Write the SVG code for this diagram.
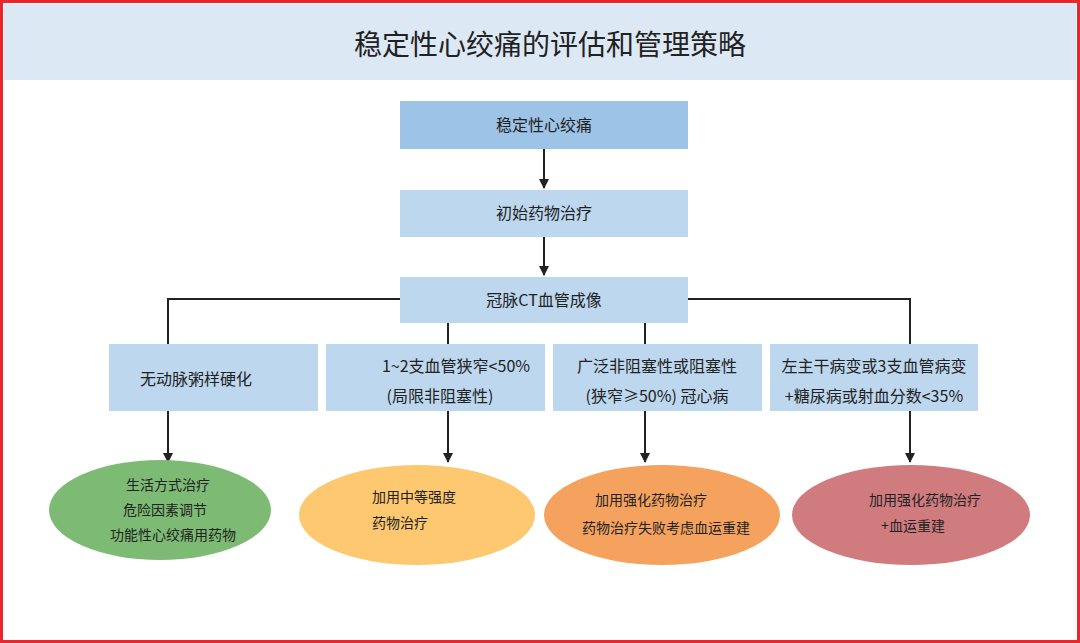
<svg xmlns="http://www.w3.org/2000/svg" width="1080" height="643" viewBox="0 0 1080 643">
<style>
text{font-family:"Noto Sans CJK SC","Noto Sans",sans-serif;fill:#222;text-anchor:middle}
.t{font-size:16px}
.c{stroke:#222;stroke-width:2;fill:none}
</style>
<defs><marker id="a" markerWidth="10" markerHeight="10" refX="9" refY="5" orient="auto" markerUnits="userSpaceOnUse"><path d="M0,0L10,5L0,10z" fill="#222"/></marker></defs>
<rect x="0" y="0" width="1080" height="643" fill="#fff"/>
<rect x="4" y="4" width="1072" height="76" fill="#dde8f5"/>
<rect x="1.5" y="1.5" width="1077" height="640" fill="none" stroke="#e8262d" stroke-width="3"/>
<text x="550" y="55" style="font-size:28px">稳定性心绞痛的评估和管理策略</text>
<g id="connectors">
<path class="c" marker-end="url(#a)" d="M544,149V188"/>
<path class="c" marker-end="url(#a)" d="M544,237V275"/>
<path class="c" d="M400,299H168V344M688,299H910V344M448,323V344M645,323V344"/>
<path class="c" marker-end="url(#a)" d="M168,411V462"/>
<path class="c" marker-end="url(#a)" d="M448,411V462"/>
<path class="c" marker-end="url(#a)" d="M645,411V462"/>
<path class="c" marker-end="url(#a)" d="M910,411V462"/>
</g>
<g id="n1"><rect x="400" y="101" width="288" height="48" fill="#9dc3e6"/><text class="t" x="544" y="131">稳定性心绞痛</text></g>
<g id="n2"><rect x="400" y="190" width="288" height="47" fill="#bdd7ee"/><text class="t" x="544" y="219">初始药物治疗</text></g>
<g id="n3"><rect x="400" y="277" width="288" height="46" fill="#bdd7ee"/><text class="t" x="544" y="306">冠脉CT血管成像</text></g>
<g id="b1"><rect x="109" y="344" width="209" height="67" fill="#bdd7ee"/><text class="t" x="196" y="385">无动脉粥样硬化</text></g>
<g id="b2"><rect x="326" y="344" width="219" height="67" fill="#bdd7ee"/><text class="t" x="456" y="372">1~2支血管狭窄&lt;50%</text><text class="t" x="440" y="402">(局限非阻塞性)</text></g>
<g id="b3"><rect x="553" y="344" width="209" height="67" fill="#bdd7ee"/><text class="t" x="657" y="372">广泛非阻塞性或阻塞性</text><text class="t" x="657" y="402">(狭窄≥50%)  冠心病</text></g>
<g id="b4"><rect x="770" y="344" width="208" height="67" fill="#bdd7ee"/><text class="t" x="874" y="372">左主干病变或3支血管病变</text><text class="t" x="874" y="402">+糖尿病或射血分数&lt;35%</text></g>
<g id="e1"><ellipse cx="160" cy="510" rx="111" ry="50" fill="#7dbb74"/><text class="t" style="font-size:14px" x="168" y="490">生活方式治疗</text><text class="t" style="font-size:14px" x="165" y="515">危险因素调节</text><text class="t" style="font-size:14px" x="173" y="540">功能性心绞痛用药物</text></g>
<g id="e2"><ellipse cx="417" cy="515" rx="118" ry="50" fill="#fdc870"/><text class="t" style="font-size:14px" x="414" y="502">加用中等强度</text><text class="t" style="font-size:14px" x="400" y="528">药物治疗</text></g>
<g id="e3"><ellipse cx="662" cy="515" rx="118" ry="50" fill="#f5a25e"/><text class="t" style="font-size:14px" x="651" y="505">加用强化药物治疗</text><text class="t" style="font-size:14px" x="666" y="533">药物治疗失败考虑血运重建</text></g>
<g id="e4"><ellipse cx="911" cy="515" rx="119" ry="50" fill="#d07c7f"/><text class="t" style="font-size:14px" x="925" y="505">加用强化药物治疗</text><text class="t" style="font-size:14px" x="913" y="531">+血运重建</text></g>
</svg>
